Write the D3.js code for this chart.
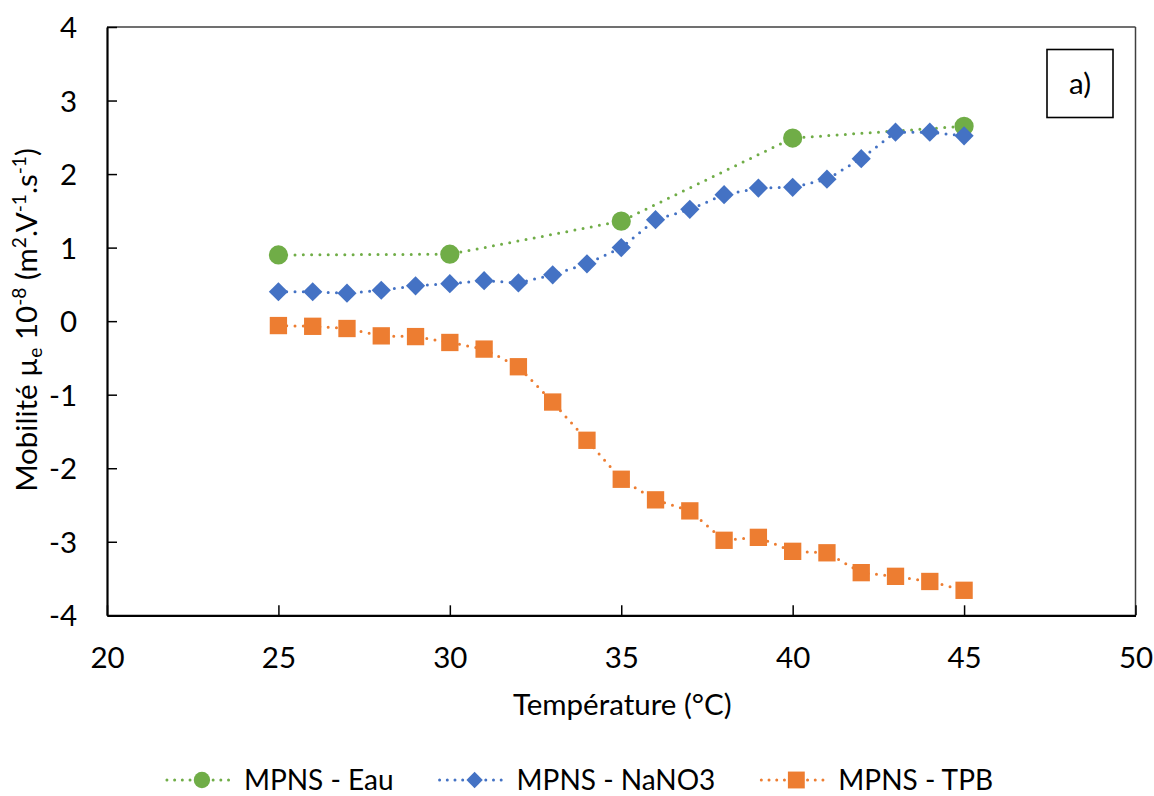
<!DOCTYPE html>
<html>
<head>
<meta charset="utf-8">
<script src="https://cdn.jsdelivr.net/npm/d3@7"></script>
<style>
  html, body { margin: 0; padding: 0; background: #fff; }
  svg { display: block; font-family: Lato, "Noto Sans", sans-serif; }
</style>
</head>
<body>
<svg id="chart" width="1154" height="796"></svg>
<script>
// ---- data ----
const tempEau = [25, 30, 35, 40, 45];
const valEau = [0.90, 0.91, 1.36, 2.49, 2.65];

const tempNaNO3 = [25, 26, 27, 28, 29, 30, 31, 32, 33, 34, 35, 36, 37, 38, 39, 40, 41, 42, 43, 44, 45];
const valNaNO3 = [0.40, 0.40, 0.38, 0.42, 0.48, 0.51, 0.55, 0.52, 0.63, 0.78, 1.00, 1.38, 1.52, 1.72, 1.81, 1.82, 1.93, 2.21, 2.57, 2.57, 2.52];

const tempTPB = [25, 26, 27, 28, 29, 30, 31, 32, 33, 34, 35, 36, 37, 38, 39, 40, 41, 42, 43, 44, 45];
const valTPB = [-0.06, -0.07, -0.10, -0.20, -0.21, -0.29, -0.38, -0.62, -1.10, -1.62, -2.15, -2.43, -2.58, -2.98, -2.94, -3.13, -3.15, -3.42, -3.47, -3.54, -3.66];

const xTicks = [20, 25, 30, 35, 40, 45, 50];
const yTicks = [-4, -3, -2, -1, 0, 1, 2, 3, 4];
const seriesNames = ["MPNS - Eau", "MPNS - NaNO3", "MPNS - TPB"];
const seriesColors = ["#70AD47", "#4472C4", "#ED7D31"];
const seriesSymbols = ["circle", "diamond", "square"];
const xTitle = "Température (°C)";
const panelLabel = "a)";

// ---- layout ----
const svg = d3.select("#chart");
const L = 107, R = 1135.5, T = 27, B = 615.3;
const FS = 29.5;
const LFS = 28;

const x = d3.scaleLinear().domain([20, 50]).range([L, R]);
const y = d3.scaleLinear().domain([-4, 4]).range([B, T]);

// frame top/right
svg.append("line").attr("x1", L).attr("x2", R).attr("y1", T).attr("y2", T)
  .attr("stroke", "#404040").attr("stroke-width", 1.5);
svg.append("line").attr("x1", R).attr("x2", R).attr("y1", T).attr("y2", B)
  .attr("stroke", "#404040").attr("stroke-width", 1.5);

// axes
const fmt = d => String(d);
const yAxis = d3.axisLeft(y).tickValues(yTicks).tickSizeInner(-10).tickSizeOuter(0).tickPadding(30)
  .tickFormat(fmt);
const gy = svg.append("g").attr("transform", `translate(${L},0)`).call(yAxis);
const xAxis = d3.axisBottom(x).tickValues(xTicks).tickSizeInner(-10).tickSizeOuter(0).tickPadding(32)
  .tickFormat(fmt);
const gx = svg.append("g").attr("transform", `translate(0,${B})`).call(xAxis);

[gx, gy].forEach(g => {
  g.select(".domain").attr("stroke", "#000").attr("stroke-width", 2.2);
  g.selectAll(".tick line").attr("stroke", "#000").attr("stroke-width", 1.5);
  g.selectAll(".tick text").attr("font-size", FS).attr("fill", "#000")
    .attr("font-family", "Lato, 'Noto Sans', sans-serif");
});
gy.selectAll(".tick text").attr("dy", "0.36em");

// axis titles
svg.append("text").attr("x", (L + R) / 2 + 1).attr("y", 715)
  .attr("text-anchor", "middle").attr("font-size", FS).text(xTitle);

const yt = svg.append("text")
  .attr("transform", "translate(37,320) rotate(-90)")
  .attr("text-anchor", "middle").attr("font-size", FS);
const SS = FS * 0.65;
yt.append("tspan").text("Mobilité µ");
yt.append("tspan").attr("font-size", SS).attr("dy", 5).text("e");
yt.append("tspan").attr("dy", -5).text(" 10");
yt.append("tspan").attr("font-size", SS).attr("dy", -11).text("-8");
yt.append("tspan").attr("dy", 11).text(" (m");
yt.append("tspan").attr("font-size", SS).attr("dy", -11).text("2");
yt.append("tspan").attr("dy", 11).text(".V");
yt.append("tspan").attr("font-size", SS).attr("dy", -11).text("-1");
yt.append("tspan").attr("dy", 11).text(".s");
yt.append("tspan").attr("font-size", SS).attr("dy", -11).text("-1");
yt.append("tspan").attr("dy", 11).text(")");

// series
const series = [
  { xs: tempEau, ys: valEau },
  { xs: tempNaNO3, ys: valNaNO3 },
  { xs: tempTPB, ys: valTPB }
];
const symType = { circle: d3.symbolCircle, diamond: d3.symbolDiamond2, square: d3.symbolSquare };
const symSize = { circle: 290, diamond: 235, square: 300 };
const symSizeLegend = { circle: 210, diamond: 170, square: 285 };

const line = d3.line().x(d => x(d[0])).y(d => y(d[1]));

series.forEach((s, i) => {
  const pts = s.xs.map((t, j) => [t, s.ys[j]]);
  svg.append("path").datum(pts).attr("d", line)
    .attr("fill", "none").attr("stroke", seriesColors[i]).attr("stroke-width", 3)
    .attr("stroke-linecap", "round").attr("stroke-dasharray", "0 8.3");
});
series.forEach((s, i) => {
  const pts = s.xs.map((t, j) => [t, s.ys[j]]);
  const sym = seriesSymbols[i];
  svg.append("g").selectAll("path").data(pts).join("path")
    .attr("transform", d => `translate(${x(d[0])},${y(d[1])})`)
    .attr("d", d3.symbol().type(symType[sym]).size(symSize[sym]))
    .attr("fill", seriesColors[i]);
});

// panel label
svg.append("rect").attr("x", 1047).attr("y", 49.5).attr("width", 66).attr("height", 68)
  .attr("fill", "#fff").attr("stroke", "#000").attr("stroke-width", 1.6);
svg.append("text").attr("x", 1080).attr("y", 94).attr("text-anchor", "middle")
  .attr("font-size", FS).text(panelLabel);

// legend
const lg = svg.append("g");
let cx = 0;
const LY = 780;
seriesNames.forEach((name, i) => {
  const g = lg.append("g").attr("transform", `translate(${cx},0)`);
  g.append("line").attr("x1", 0).attr("x2", 68).attr("y1", LY).attr("y2", LY)
    .attr("stroke", seriesColors[i]).attr("stroke-width", 3)
    .attr("stroke-linecap", "round").attr("stroke-dasharray", "0 7.7");
  g.append("path").attr("transform", `translate(35,${LY})`)
    .attr("d", d3.symbol().type(symType[seriesSymbols[i]]).size(symSizeLegend[seriesSymbols[i]]))
    .attr("fill", seriesColors[i]);
  const t = g.append("text").attr("x", 77).attr("y", LY + 10).attr("font-size", LFS).text(name);
  const w = t.node().getComputedTextLength();
  cx += 77 + w + 46;
});
const total = cx - 46;
lg.attr("transform", `translate(${580 - total / 2},0)`);
</script>
</body>
</html>
